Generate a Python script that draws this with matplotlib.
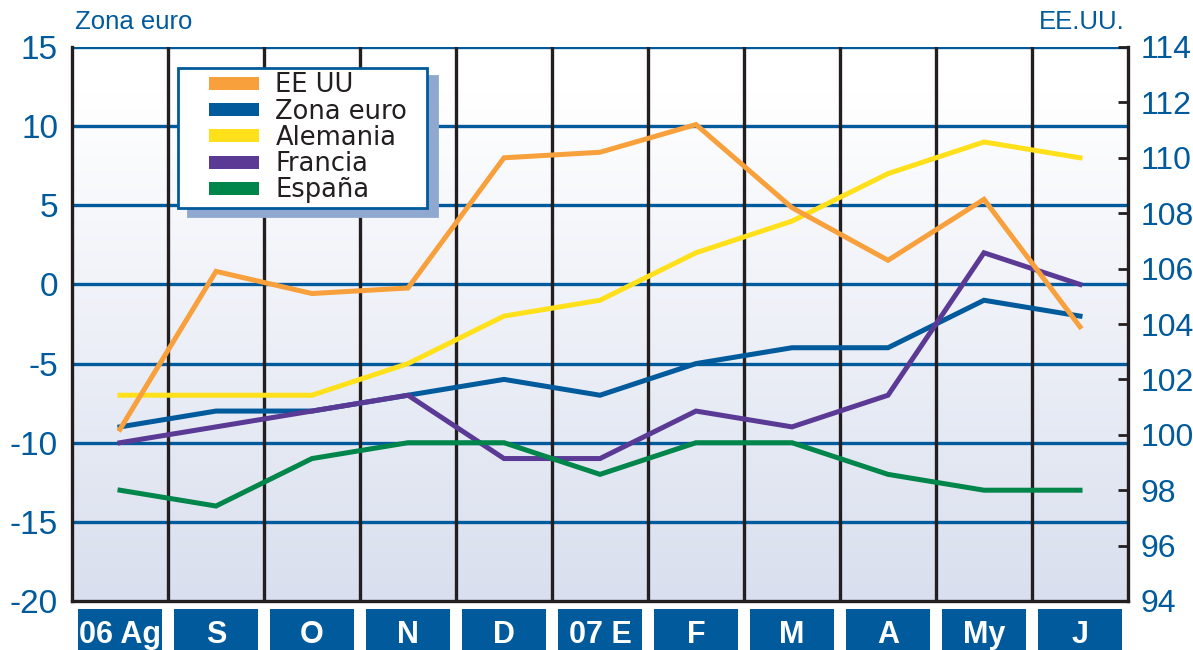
import numpy as np
import matplotlib
matplotlib.use("Agg")
import matplotlib.pyplot as plt
from matplotlib.patches import Rectangle, Patch
from matplotlib.legend_handler import HandlerPatch
from matplotlib.transforms import blended_transform_factory

months = ["06 Ag", "S", "O", "N", "D", "07 E", "F", "M", "A", "My", "J"]
eeuu = [100.2, 105.9, 105.1, 105.3, 110.0, 110.2, 111.2, 108.2, 106.3, 108.5, 103.9]
zona_euro = [-9, -8, -8, -7, -6, -7, -5, -4, -4, -1, -2]
alemania = [-7, -7, -7, -5, -2, -1, 2, 4, 7, 9, 8]
francia = [-10, -9, -8, -7, -11, -11, -8, -9, -7, 2, 0]
espana = [-13, -14, -11, -10, -10, -12, -10, -10, -12, -13, -13]

left_ticks = [15, 10, 5, 0, -5, -10, -15, -20]
right_ticks = list(range(94, 115, 2))

BLUE = "#005a9c"
C_US = "#f7a03c"
C_EZ = "#005a9c"
C_DE = "#ffe01b"
C_FR = "#5b3a96"
C_ES = "#00854a"

plt.rcParams['font.family'] = ['Liberation Sans', 'DejaVu Sans']

fig = plt.figure(figsize=(11.93, 6.5), dpi=100)
ax = fig.add_axes([72/1193, 1 - 601/650, (1128-72)/1193, (601-47)/650])
x = np.arange(len(months))

# gradient background (white at top -> pale blue at bottom)
grad = np.linspace(0, 1, 256).reshape(-1, 1)
top = np.array([1.0, 1.0, 1.0])
bot = np.array([0xd9, 0xdf, 0xee]) / 255.0
w = np.clip((grad - 0.08) / 0.92, 0, 1)
img = top[None, None, :] * (1 - w[:, :, None]) + bot[None, None, :] * w[:, :, None]
ax.imshow(img, extent=[-0.5, len(months) - 0.5, -20, 15], aspect='auto', zorder=0,
          origin='upper')
ax.set_xlim(-0.5, len(months) - 0.5)
ax.set_ylim(-20, 15)

for yv in left_ticks[:-1]:
    ax.axhline(yv, color=BLUE, lw=2.4, zorder=1)
for xv in np.arange(0.5, len(months) - 0.5, 1):
    ax.axvline(xv, color="#231f20", lw=2.4, zorder=1)

lw = 3.6
ax.plot(x, alemania, color=C_DE, lw=lw, zorder=3, solid_joinstyle='miter')
ax.plot(x, zona_euro, color=C_EZ, lw=lw, zorder=3, solid_joinstyle='miter')
ax.plot(x, francia, color=C_FR, lw=lw, zorder=3, solid_joinstyle='miter')
ax.plot(x, espana, color=C_ES, lw=lw, zorder=3, solid_joinstyle='miter')

ax.set_yticks(left_ticks)
ax.set_yticklabels([str(t) for t in left_ticks])
ax.tick_params(axis='y', length=0, labelsize=24, labelcolor=BLUE, pad=10)
ax.set_xticks([])
for s in ['left', 'bottom']:
    ax.spines[s].set_color("#231f20")
    ax.spines[s].set_linewidth(2.4)
ax.spines['top'].set_visible(False)
ax.spines['right'].set_visible(False)

ax2 = ax.twinx()
ax2.set_ylim(94, 114)
ax2.plot(x, eeuu, color=C_US, lw=lw, zorder=3, solid_joinstyle='miter')
ax2.set_yticks(right_ticks)
ax2.set_yticklabels([str(t) for t in right_ticks])
ax2.tick_params(axis='y', direction='in', length=7, width=2, color="#231f20",
                labelsize=23, labelcolor=BLUE, pad=9)
for s in ['left', 'bottom', 'top']:
    ax2.spines[s].set_visible(False)
ax2.spines['right'].set_color("#231f20")
ax2.spines['right'].set_linewidth(2.4)

# month boxes
tr = blended_transform_factory(ax.transData, ax.transAxes)
for i, m in enumerate(months):
    ax.add_patch(Rectangle((i - 0.44, -0.12), 0.88, 0.106, transform=tr,
                           facecolor=BLUE, edgecolor='none', clip_on=False, zorder=5))
    ax.text(i, -0.062, m, transform=tr, ha='center', va='center', color='white',
            fontsize=22, fontweight='bold',
            family=['Liberation Sans Narrow', 'Liberation Sans', 'DejaVu Sans'],
            clip_on=False, zorder=6)

fig.text(75/1193, 1 - 22/650, "Zona euro", color=BLUE, fontsize=18.5, ha='left', va='center')
fig.text(1125/1193, 1 - 22/650, "EE.UU.", color=BLUE, fontsize=18.5, ha='right', va='center')


def swatch(legend, orig_handle, xdescent, ydescent, width, height, fontsize):
    sw, sh = 36.0, 9.4
    return Rectangle((-xdescent + width - sw, -ydescent + height / 2 - sh / 2), sw, sh)


handles = [Patch(facecolor=c, edgecolor='none') for c in [C_US, C_EZ, C_DE, C_FR, C_ES]]
labels = ["EE UU", "Zona euro", "Alemania", "Francia", "España"]
leg = ax2.legend(handles, labels, loc='upper left',
                 bbox_to_anchor=(178/1193, 1 - 68/650, (427-178)/1193, 0),
                 bbox_transform=fig.transFigure, mode='expand',
                 handler_map={Patch: HandlerPatch(patch_func=swatch)},
                 frameon=True, fancybox=False, framealpha=1, edgecolor=BLUE,
                 facecolor='white', handlelength=3.0, handletextpad=0.62,
                 labelspacing=0.01, borderpad=0.17, borderaxespad=0,
                 shadow={'ox': 7, 'oy': -6, 'color': '#8fa8cf', 'alpha': 1},
                 prop={'family': ['DejaVu Sans'], 'size': 18.5})
leg.get_frame().set_linewidth(2)
for t in leg.get_texts():
    t.set_color("#231f20")
leg.set_zorder(10)

fig.savefig("out.png", dpi=100)
